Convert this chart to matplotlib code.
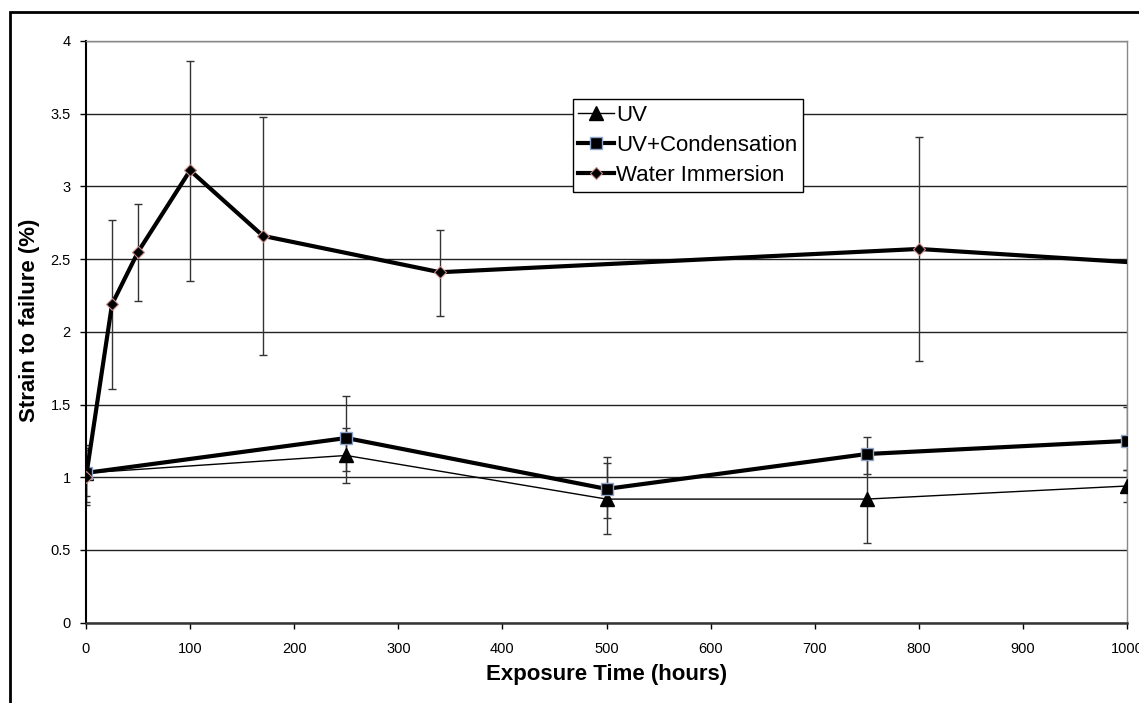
import numpy as np
import matplotlib.pyplot as plt
from matplotlib.patches import Rectangle

plt.rcParams['font.family'] = ['Liberation Sans', 'DejaVu Sans']

# UV and UV+Condensation, same exposure times
t_uv = [0, 250, 500, 750, 1000]
uv = [1.03, 1.15, 0.85, 0.85, 0.94]
uv_lo = [0.83, 0.96, 0.61, 0.55, 0.83]
uv_hi = [1.22, 1.34, 1.10, 1.15, 1.05]

uvc = [1.03, 1.27, 0.92, 1.16, 1.25]
uvc_lo = [0.87, 1.04, 0.72, 1.02, 1.05]
uvc_hi = [1.19, 1.56, 1.14, 1.28, 1.48]

# Water immersion (last point has no visible marker / error bar)
t_wi = [0, 25, 50, 100, 170, 340, 800, 1000]
wi = [1.00, 2.19, 2.55, 3.11, 2.66, 2.41, 2.57, 2.48]
wi_lo = [0.81, 1.61, 2.21, 2.35, 1.84, 2.11, 1.80]
wi_hi = [1.20, 2.77, 2.88, 3.86, 3.48, 2.70, 3.34]


def yerr(y, lo, hi):
    y = np.asarray(y[:len(lo)])
    return [y - np.asarray(lo), np.asarray(hi) - y]


fig = plt.figure(figsize=(11.39, 7.03), dpi=100)
ax = fig.add_axes([86 / 1139, 1 - 622.7 / 703, 1041 / 1139, 581.7 / 703])

# outer chart border (runs off the right/bottom of the picture)
fig.patches.append(Rectangle((10 / 1139, -0.05), 1.2, 1 - 12 / 703 + 0.05,
                             transform=fig.transFigure, fill=False,
                             edgecolor='black', linewidth=2))

ax.set_yticks(np.arange(0, 4.01, 0.5))
ax.yaxis.grid(True, color='#222222', linewidth=1)
ax.set_axisbelow(True)

eb = dict(fmt='none', ecolor='#333333', elinewidth=1, capsize=3, capthick=1)
ax.errorbar(t_uv, uv, yerr=yerr(uv, uv_lo, uv_hi), **eb)
ax.errorbar(t_uv, uvc, yerr=yerr(uvc, uvc_lo, uvc_hi), **eb)
ax.errorbar(t_wi[:len(wi_lo)], wi[:len(wi_lo)], yerr=yerr(wi, wi_lo, wi_hi), **eb)

ax.plot(t_uv, uv, color='black', linewidth=1, marker='^', markersize=10,
        markerfacecolor='black', markeredgecolor='black', label='UV', zorder=3)
ax.plot(t_uv, uvc, color='black', linewidth=3, marker='s', markersize=8,
        markerfacecolor='black', markeredgecolor='#8ea6cc', markeredgewidth=1,
        label='UV+Condensation', zorder=4)
ax.plot(t_wi, wi, color='black', linewidth=3, marker='D', markersize=6,
        markerfacecolor='black', markeredgecolor='#c98a86', markeredgewidth=0.8,
        markevery=list(range(len(wi_lo))), label='Water Immersion', zorder=5)

ax.set_xlim(0, 1000)
ax.set_ylim(0, 4)
ax.set_xticks(np.arange(0, 1001, 100))
ax.set_yticklabels(['0', '0.5', '1', '1.5', '2', '2.5', '3', '3.5', '4'])

for s in ['top', 'right']:
    ax.spines[s].set_color('#888888')
    ax.spines[s].set_linewidth(1)
ax.spines['left'].set_linewidth(1.5)
ax.spines['bottom'].set_linewidth(1.8)
ax.spines['bottom'].set_color('#333333')

ax.tick_params(axis='both', direction='out', length=4, width=1, labelsize=10.5)
ax.tick_params(axis='x', pad=10)
ax.tick_params(axis='y', pad=7)

ax.set_xlabel('Exposure Time (hours)', fontsize=16, fontweight='bold', labelpad=6)
ax.set_ylabel('Strain to failure (%)', fontsize=16, fontweight='bold')
ax.yaxis.set_label_coords(-0.044, 0.519)

leg = ax.legend(loc='upper left', bbox_to_anchor=(0.4675, 0.9003), fontsize=16,
                frameon=True, fancybox=False, edgecolor='black', framealpha=1,
                handlelength=1.6, handletextpad=0.1, labelspacing=0.42,
                borderpad=0.25, borderaxespad=0)
leg.get_frame().set_linewidth(1)

plt.savefig('out.png', dpi=100)
